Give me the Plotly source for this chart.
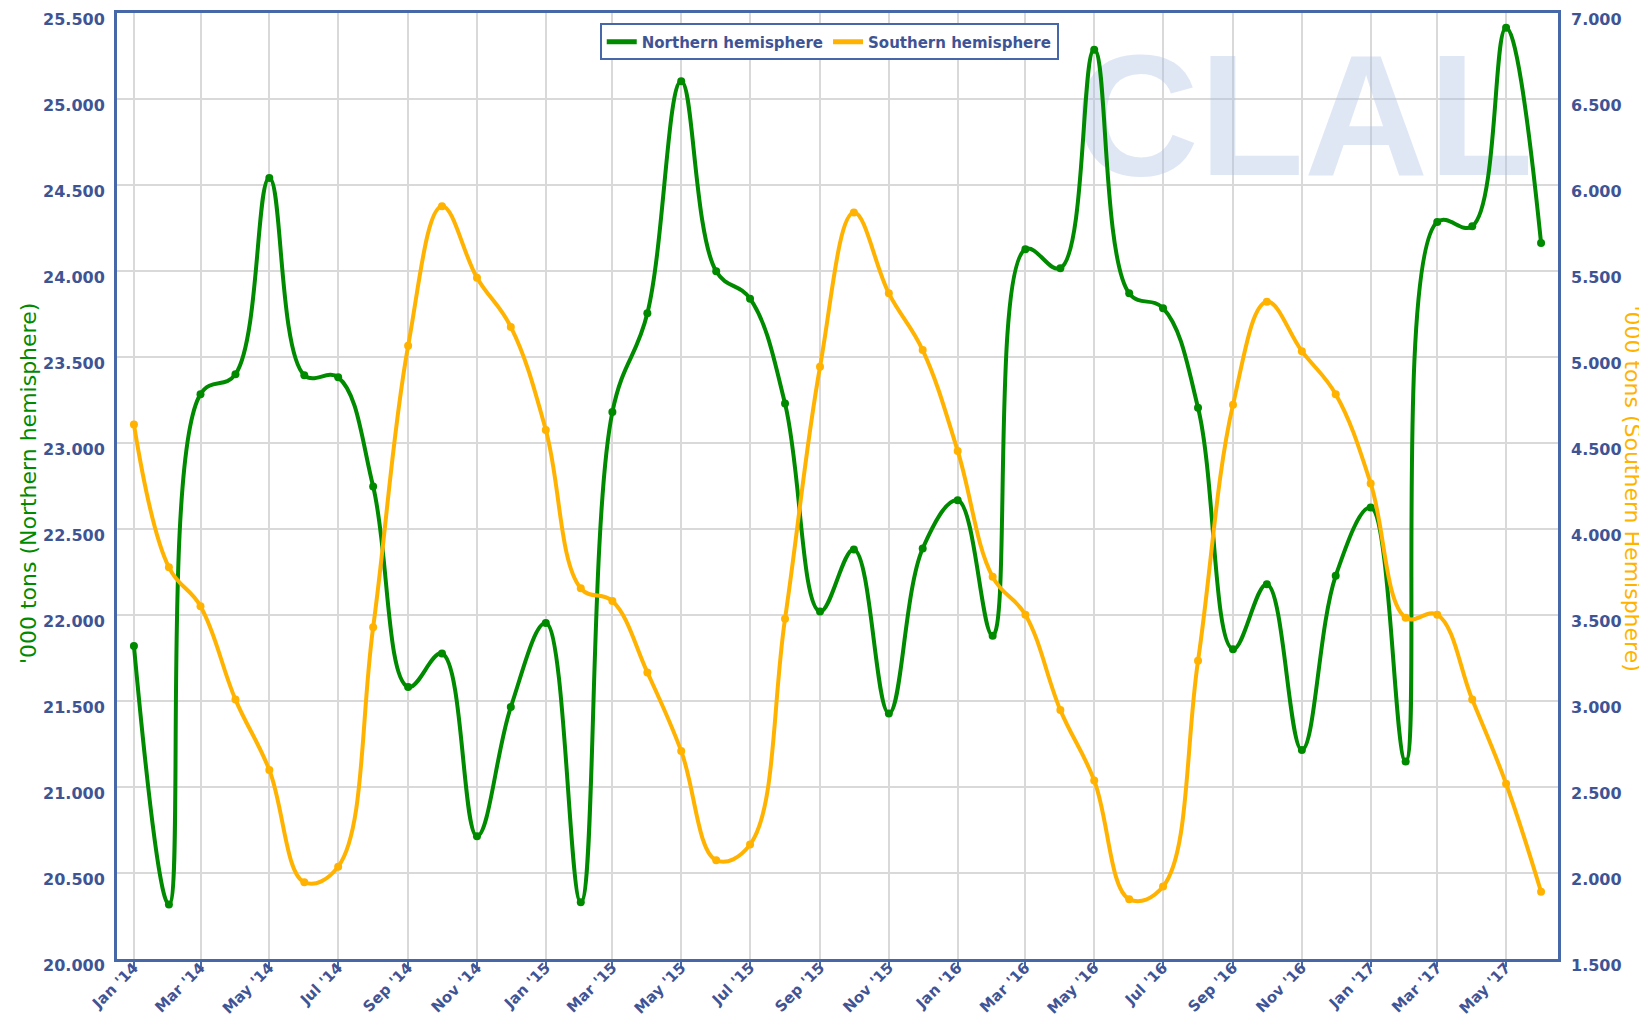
import plotly.graph_objects as go

# monthly data, Jan 2014 - Jun 2017, '000 tons
months = ["2014-01-01", "2014-02-01", "2014-03-01", "2014-04-01", "2014-05-01", "2014-06-01",
          "2014-07-01", "2014-08-01", "2014-09-01", "2014-10-01", "2014-11-01", "2014-12-01",
          "2015-01-01", "2015-02-01", "2015-03-01", "2015-04-01", "2015-05-01", "2015-06-01",
          "2015-07-01", "2015-08-01", "2015-09-01", "2015-10-01", "2015-11-01", "2015-12-01",
          "2016-01-01", "2016-02-01", "2016-03-01", "2016-04-01", "2016-05-01", "2016-06-01",
          "2016-07-01", "2016-08-01", "2016-09-01", "2016-10-01", "2016-11-01", "2016-12-01",
          "2017-01-01", "2017-02-01", "2017-03-01", "2017-04-01", "2017-05-01", "2017-06-01"]

northern = [21820, 20317, 23284, 23400, 24541, 23394, 23382, 22747, 21581, 21776, 20714, 21465,
            21953, 20330, 23180, 23754, 25103, 23998, 23839, 23229, 22020, 22381, 21428, 22387,
            22667, 21880, 24126, 24016, 25286, 23870, 23784, 23205, 21801, 22179, 21215, 22228,
            22625, 21148, 24285, 24260, 25414, 24163]

southern = [4607, 3777, 3551, 3008, 2599, 1946, 2037, 3429, 5065, 5877, 5461, 5175,
            4576, 3655, 3581, 3166, 2709, 2074, 2165, 3478, 4943, 5840, 5370, 5040,
            4454, 3722, 3502, 2947, 2538, 1848, 1921, 3234, 4723, 5321, 5034, 4784,
            4265, 3484, 3502, 3008, 2519, 1891]

GREEN = "#008a00"
ORANGE = "#ffb300"
TXT = "#3f5494"
FRAME = "#4668a8"
GRID = "#d9d9d9"
FONT = "DejaVu Sans"

fig = go.Figure()

# CLAL watermark behind the lines
fig.add_trace(go.Scatter(x=["2016-11-03"], y=[24810], mode="text", text=["CLAL"],
                         textfont=dict(family="Liberation Sans", size=172, weight="bold",
                                       color="rgba(170,192,230,0.38)"),
                         hoverinfo="skip", showlegend=False, cliponaxis=False))

fig.add_trace(go.Scatter(x=months, y=northern, name="Northern hemisphere",
                         mode="lines+markers",
                         line=dict(color=GREEN, width=4, shape="spline", smoothing=1.1),
                         marker=dict(size=8, color=GREEN), showlegend=False))
fig.add_trace(go.Scatter(x=months, y=southern, name="Southern hemisphere", yaxis="y2",
                         mode="lines+markers",
                         line=dict(color=ORANGE, width=4, shape="spline", smoothing=1.1),
                         marker=dict(size=8, color=ORANGE), showlegend=False))

# legend entries (line only)
fig.add_trace(go.Scatter(x=[None], y=[None], mode="lines", name="Northern hemisphere",
                         line=dict(color=GREEN, width=5)))
fig.add_trace(go.Scatter(x=[None], y=[None], mode="lines", name="Southern hemisphere",
                         line=dict(color=ORANGE, width=5)))

tickfont = dict(family=FONT, size=16, color=TXT, weight="bold")

fig.update_layout(
    width=1647, height=1016,
    margin=dict(l=109, r=97, t=5, b=65),
    paper_bgcolor="white", plot_bgcolor="white",
    separators=",.",
    xaxis=dict(type="date", range=["2013-12-17", "2017-06-16"], automargin=False,
               tick0="2014-01-01", dtick="M2", tickformat="%b '%y", tickangle=-45,
               tickfont=dict(family=FONT, size=15, color=TXT, weight="bold"),
               ticklabeloverflow="allow", ticklabelstandoff=-14,
               showgrid=True, gridcolor=GRID, gridwidth=1.5,
               ticks="outside", ticklen=5, tickcolor=FRAME, tickwidth=1.5,
               showline=True, linecolor=FRAME, linewidth=3, mirror=True, zeroline=False),
    yaxis=dict(range=[20000, 25500], dtick=500, tickformat=",", tickfont=tickfont,
               automargin=False, ticklabeloverflow="allow",
               showgrid=True, gridcolor=GRID, gridwidth=1.5, zeroline=False,
               showline=True, linecolor=FRAME, linewidth=3, mirror=True,
               ticklabelshift=6, ticklabelstandoff=6),
    yaxis2=dict(range=[1500, 7000], dtick=500, tickformat=",", tickfont=tickfont,
                automargin=False, ticklabeloverflow="allow",
                overlaying="y", side="right", showgrid=False, zeroline=False,
                ticklabelshift=6, ticklabelstandoff=12),
    legend=dict(orientation="h", x=0.335, y=0.989, xanchor="left", yanchor="top",
                bordercolor=FRAME, borderwidth=2, bgcolor="white",
                font=dict(family=FONT, size=15, color=TXT, weight="bold"),
                itemwidth=30, tracegroupgap=0),
    showlegend=True,
    annotations=[
        dict(text="'000 tons (Northern hemisphere)", xref="paper", yref="paper",
             x=-0.0618, xanchor="center", y=0.503, textangle=-90, showarrow=False,
             font=dict(family=FONT, size=22, color=GREEN)),
        dict(text="'000 tons (Southern Hemisphere)", xref="paper", yref="paper",
             x=1.0416, xanchor="left", y=0.497, textangle=90, showarrow=False,
             font=dict(family=FONT, size=22, color=ORANGE)),
    ],
)

fig.write_html("out.html")
